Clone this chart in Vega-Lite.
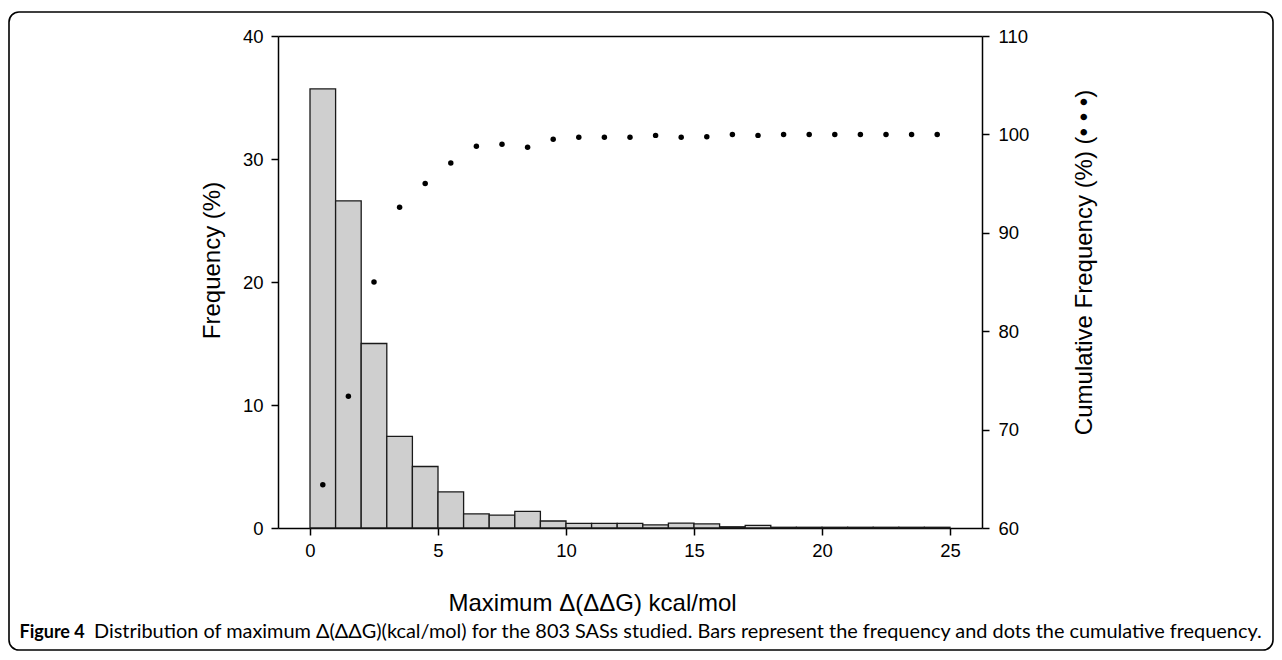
{
  "$schema": "https://vega.github.io/schema/vega-lite/v6.json",
  "width": 1264,
  "height": 638,
  "autosize": {"type": "none"},
  "padding": {"left": 9, "top": 12, "right": 9, "bottom": 10},
  "background": "white",
  "config": {
    "view": {"stroke": "black", "strokeWidth": 1.6, "cornerRadius": 10},
    "font": "Liberation Sans",
    "axis": {
      "grid": false,
      "domainColor": "black",
      "domainWidth": 1.5,
      "tickColor": "black",
      "tickWidth": 1.5,
      "tickSize": 7,
      "labelColor": "black",
      "labelFont": "Liberation Sans",
      "labelFontSize": 18.5,
      "titleColor": "black",
      "titleFont": "Liberation Sans",
      "titleFontWeight": "normal",
      "titleFontSize": 24
    }
  },
  "title": {
    "text": "Distribution of maximum Δ(ΔΔG)(kcal/mol) for the 803 SASs studied. Bars represent the frequency and dots the cumulative frequency.",
    "orient": "bottom",
    "anchor": "start",
    "frame": "group",
    "offset": -18,
    "dx": 85,
    "baseline": "middle",
    "font": "Lato",
    "fontSize": 19.9,
    "fontWeight": "normal",
    "color": "black"
  },
  "datasets": {
    "bins": [
      {"lo": 0, "hi": 1, "freq": 35.7},
      {"lo": 1, "hi": 2, "freq": 26.6},
      {"lo": 2, "hi": 3, "freq": 15.0},
      {"lo": 3, "hi": 4, "freq": 7.45},
      {"lo": 4, "hi": 5, "freq": 5.0},
      {"lo": 5, "hi": 6, "freq": 2.93},
      {"lo": 6, "hi": 7, "freq": 1.15},
      {"lo": 7, "hi": 8, "freq": 1.05},
      {"lo": 8, "hi": 9, "freq": 1.35},
      {"lo": 9, "hi": 10, "freq": 0.57},
      {"lo": 10, "hi": 11, "freq": 0.37},
      {"lo": 11, "hi": 12, "freq": 0.37},
      {"lo": 12, "hi": 13, "freq": 0.37},
      {"lo": 13, "hi": 14, "freq": 0.25},
      {"lo": 14, "hi": 15, "freq": 0.4},
      {"lo": 15, "hi": 16, "freq": 0.33},
      {"lo": 16, "hi": 17, "freq": 0.1},
      {"lo": 17, "hi": 18, "freq": 0.22},
      {"lo": 18, "hi": 19, "freq": 0.06},
      {"lo": 19, "hi": 20, "freq": 0.06},
      {"lo": 20, "hi": 21, "freq": 0.06},
      {"lo": 21, "hi": 22, "freq": 0.06},
      {"lo": 22, "hi": 23, "freq": 0.06},
      {"lo": 23, "hi": 24, "freq": 0.06},
      {"lo": 24, "hi": 25, "freq": 0.06}
    ],
    "cumulative": [
      {"x": 0.5, "cum": 64.4},
      {"x": 1.5, "cum": 73.4},
      {"x": 2.5, "cum": 85.0},
      {"x": 3.5, "cum": 92.6},
      {"x": 4.5, "cum": 95.0},
      {"x": 5.5, "cum": 97.1},
      {"x": 6.5, "cum": 98.8},
      {"x": 7.5, "cum": 99.0},
      {"x": 8.5, "cum": 98.7},
      {"x": 9.5, "cum": 99.5},
      {"x": 10.5, "cum": 99.7},
      {"x": 11.5, "cum": 99.7},
      {"x": 12.5, "cum": 99.7},
      {"x": 13.5, "cum": 99.9},
      {"x": 14.5, "cum": 99.7},
      {"x": 15.5, "cum": 99.75},
      {"x": 16.5, "cum": 100.0},
      {"x": 17.5, "cum": 99.9},
      {"x": 18.5, "cum": 100.0},
      {"x": 19.5, "cum": 100.0},
      {"x": 20.5, "cum": 100.0},
      {"x": 21.5, "cum": 100.0},
      {"x": 22.5, "cum": 100.0},
      {"x": 23.5, "cum": 100.0},
      {"x": 24.5, "cum": 100.0}
    ]
  },
  "layer": [
    {
      "data": {"name": "bins"},
      "mark": {"type": "rect", "fill": "#cfcfcf", "stroke": "#1a1a1a", "strokeWidth": 1.3},
      "encoding": {
        "x": {
          "field": "lo",
          "type": "quantitative",
          "scale": {"domain": [-1.25, 26.25], "range": [269, 973], "nice": false, "zero": false},
          "axis": {
            "orient": "bottom",
            "offset": -122,
            "values": [0, 5, 10, 15, 20, 25],
            "labelPadding": 6,
            "title": "Maximum Δ(ΔΔG) kcal/mol",
            "titleX": 583,
            "titleY": 75,
            "titleAlign": "center",
            "titleBaseline": "middle"
          }
        },
        "x2": {"field": "hi"},
        "y": {
          "field": "freq",
          "type": "quantitative",
          "scale": {"domain": [0, 40], "range": [516, 24], "nice": false},
          "axis": {
            "orient": "left",
            "offset": -269,
            "values": [0, 10, 20, 30, 40],
            "labelPadding": 8,
            "title": "Frequency (%)",
            "titleAngle": -90,
            "titleX": -66,
            "titleY": 248,
            "titleAlign": "center",
            "titleBaseline": "middle"
          }
        },
        "y2": {"datum": 0}
      }
    },
    {
      "data": {"name": "cumulative"},
      "mark": {"type": "point", "filled": true, "color": "black", "opacity": 1, "size": 30},
      "encoding": {
        "x": {
          "field": "x",
          "type": "quantitative",
          "scale": {"domain": [-1.25, 26.25], "range": [269, 973], "nice": false, "zero": false},
          "axis": {
            "orient": "top",
            "offset": -24,
            "labels": false,
            "ticks": false,
            "domain": true,
            "title": "Figure 4",
            "titleFont": "Lato",
            "titleFontWeight": "bold",
            "titleFontSize": 18,
            "titleAngle": 0,
            "titleX": 10,
            "titleY": 596,
            "titleAlign": "left",
            "titleBaseline": "middle"
          }
        },
        "y": {
          "field": "cum",
          "type": "quantitative",
          "scale": {"domain": [60, 110], "range": [516, 24], "nice": false, "zero": false},
          "axis": {
            "orient": "right",
            "offset": -291,
            "values": [60, 70, 80, 90, 100, 110],
            "labelPadding": 9,
            "title": "Cumulative Frequency (%) (• • •)",
            "titleAngle": -90,
            "titleX": 102,
            "titleY": 250,
            "titleAlign": "center",
            "titleBaseline": "middle"
          }
        }
      }
    }
  ],
  "resolve": {"scale": {"x": "independent", "y": "independent"}}
}
